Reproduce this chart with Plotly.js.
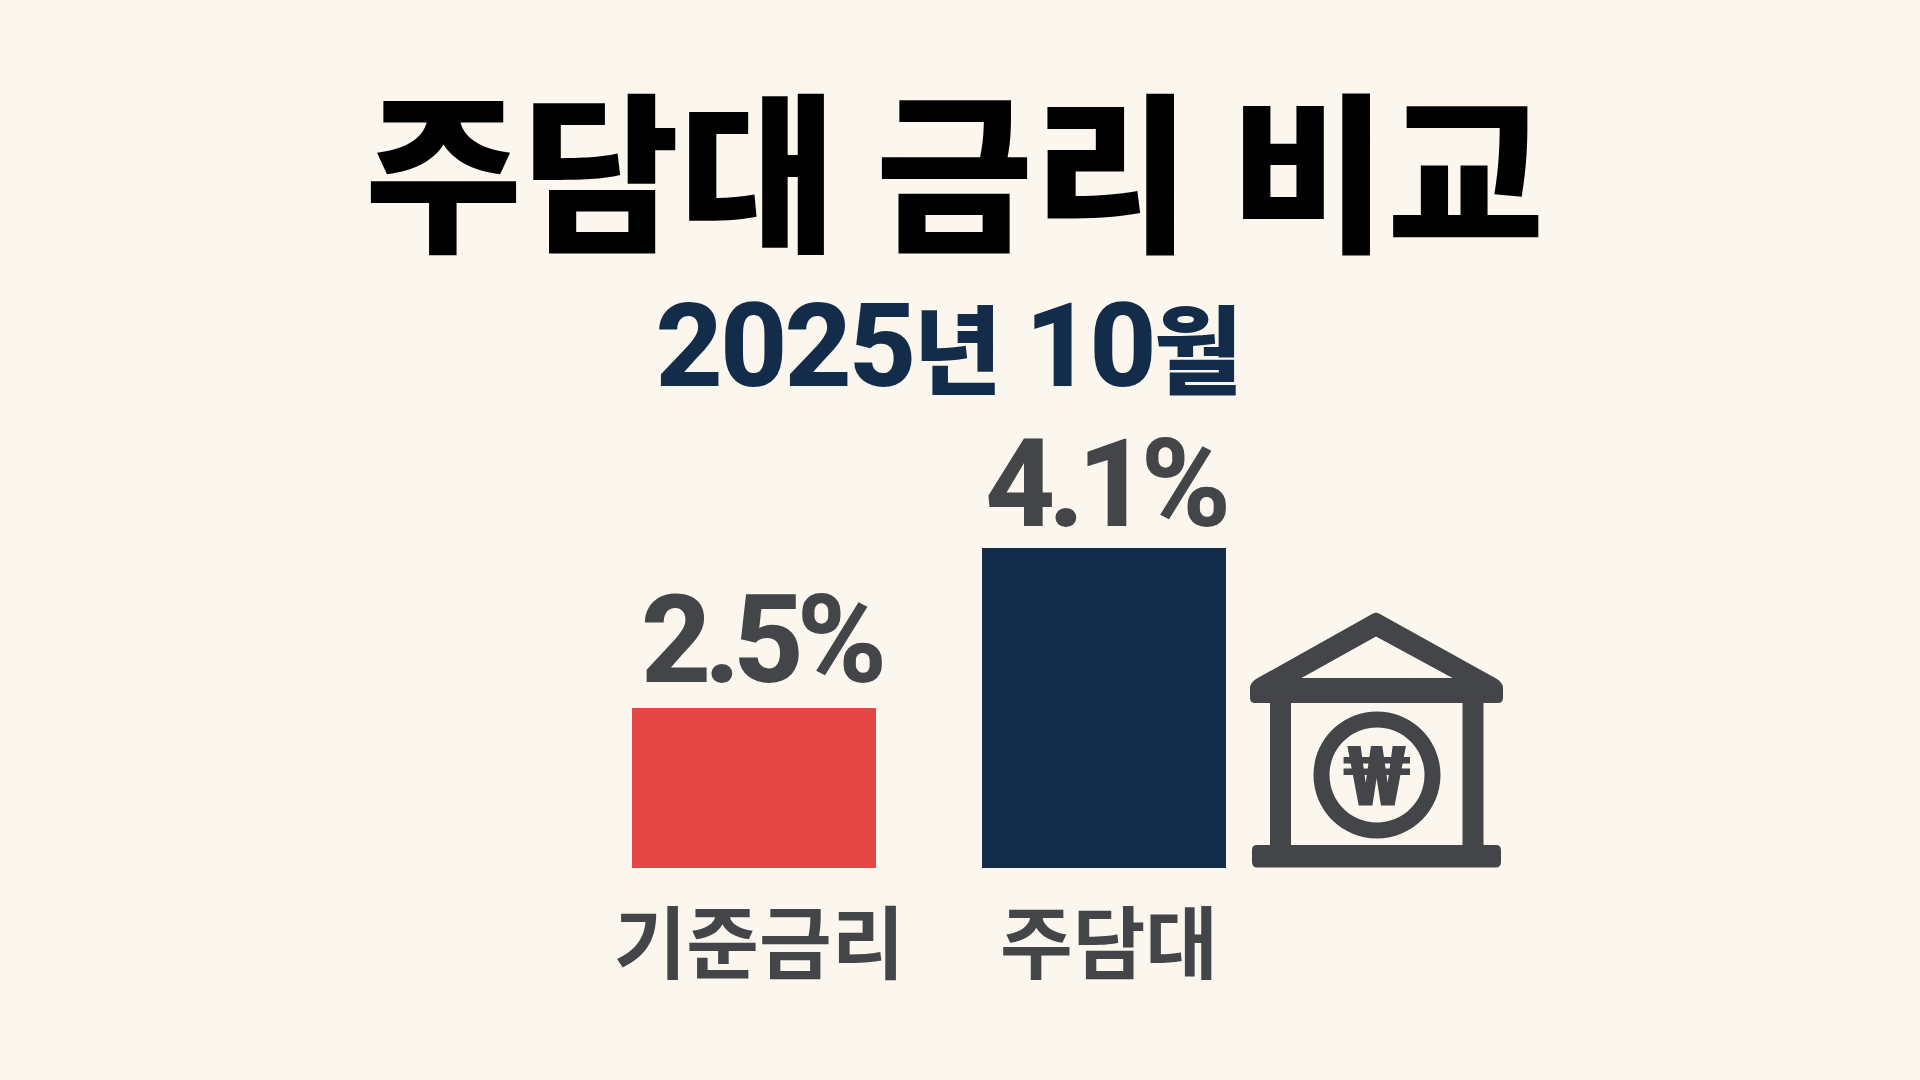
<!DOCTYPE html>
<html><head><meta charset="utf-8">
<script src="https://cdn.plot.ly/plotly-3.0.1.min.js"></script>
<style>html,body{margin:0;padding:0;background:#fbf7ee;overflow:hidden}#c{width:1920px;height:1080px}
.annotation[data-index="0"] .annotation-text{letter-spacing:-3px}
.annotation[data-index="2"] .annotation-text,.annotation[data-index="3"] .annotation-text{letter-spacing:-7px}
.xtick{transform:translateX(5px)}
</style>
</head><body><div id="c"></div>
<script>
const categories = ["기준금리", "주담대"];
const rates = [2.5, 4.1];
const valueLabels = ["2.5%", "4.1%"];
const barColors = ["#e54545", "#122b48"];
const titleText = "주담대 금리 비교";
const subtitleYear = "2025";
const subtitleYearUnit = "년";
const subtitleMonth = "10";
const subtitleMonthUnit = "월";
const axisBase = 0.9;

const W = 1920, H = 1080, plotH = 868, ink = "#434549";
const kr = '"Noto Sans CJK KR","Noto Sans",sans-serif';
const latinKr = 'Roboto,"Noto Sans CJK KR",sans-serif';
const unit = s => "<span style=\"font-size:96px\">" + s + "</span>";
const subtitleText = subtitleYear + unit(subtitleYearUnit) + " " + subtitleMonth + unit(subtitleMonthUnit);

// Icon outlines are written in page pixels, converted to paper fractions
const P = s => s.replace(/(-?[\d.]+) (-?[\d.]+)/g, (m, x, y) =>
  (x / W).toFixed(5) + " " + ((plotH - y) / plotH).toFixed(5));
const iconShape = path => ({type: "path", xref: "paper", yref: "paper", path: P(path), fillcolor: ink, line: {width: 0}, layer: "above"});
const disc = (cx, cy, r) => {
  const k = r * 0.5523;
  return `M ${cx + r} ${cy} C ${cx + r} ${cy + k} ${cx + k} ${cy + r} ${cx} ${cy + r} ` +
         `C ${cx - k} ${cy + r} ${cx - r} ${cy + k} ${cx - r} ${cy} ` +
         `C ${cx - r} ${cy - k} ${cx - k} ${cy - r} ${cx} ${cy - r} ` +
         `C ${cx + k} ${cy - r} ${cx + r} ${cy - k} ${cx + r} ${cy} Z `;
};

const shapes = [
  iconShape("M 1373 613.5 Q 1376 612 1379 613.5 L 1497 679 Q 1503 683 1503 688 L 1503 698 Q 1503 703 1498 703 L 1255 703 Q 1250 703 1250 698 L 1250 688 Q 1250 683 1256 679 Z M 1376 636.5 L 1301.5 678 L 1452.5 678 Z"),
  iconShape("M 1270 703 L 1291 703 L 1291 846 L 1270 846 Z"),
  iconShape("M 1462.5 703 L 1483.5 703 L 1483.5 846 L 1462.5 846 Z"),
  iconShape("M 1257 845 L 1496 845 Q 1501 845 1501 850 L 1501 862 Q 1501 867.5 1496 867.5 L 1257 867.5 Q 1252 867.5 1252 862 L 1252 850 Q 1252 845 1257 845 Z"),
  iconShape(disc(1377, 775, 63.5) + disc(1377, 775, 47.5))
];

const trace = {
  type: "bar", x: categories, y: rates, width: 0.697, base: 0,
  marker: {color: barColors, line: {width: 0}},
  hoverinfo: "skip"
};

const valueFont = {family: latinKr, size: 122, color: ink, weight: 800};
const valueXShift = [6, 0];
const valueYShift = [-6, -10];

const layout = {
  width: W, height: H, showlegend: false, bargap: 0.3,
  paper_bgcolor: "#fbf7ee", plot_bgcolor: "#fbf7ee",
  margin: {l: 0, r: 0, t: 0, b: H - plotH, pad: 0},
  title: {text: titleText, font: {family: kr, size: 171, color: "#000000", weight: 900},
          x: 954.5 / W, xref: "paper", xanchor: "center", y: 1 - 178 / H, yref: "container", yanchor: "middle"},
  xaxis: {type: "category", categoryorder: "array", categoryarray: categories, range: [-754 / 350, (W - 754) / 350],
          showgrid: false, showline: false, zeroline: false, ticks: "outside", ticklen: 9, tickcolor: "rgba(0,0,0,0)",
          tickfont: {family: kr, size: 79, color: ink, weight: 700}, fixedrange: true},
  yaxis: {range: [axisBase, axisBase + plotH / 100], visible: false, fixedrange: true},
  shapes: shapes,
  annotations: [
    {text: subtitleText, xref: "paper", yref: "paper", x: 947 / W, y: (plotH - 346) / plotH, xanchor: "center", yanchor: "middle", showarrow: false,
     font: {family: latinKr, size: 117, color: "#132c4a", weight: 800}},
    {text: "₩", xref: "paper", yref: "paper", x: 1376.5 / W, y: (plotH - 776) / plotH, xanchor: "center", yanchor: "middle", showarrow: false,
     font: {family: latinKr, size: 84, color: ink, weight: 800}}
  ].concat(categories.map((c, i) => ({
    text: valueLabels[i], xref: "x", yref: "y", x: c, y: rates[i], xanchor: "center", yanchor: "bottom", showarrow: false,
    xshift: valueXShift[i], yshift: valueYShift[i], font: valueFont
  })))
};
Plotly.newPlot("c", [trace], layout, {displayModeBar: false, staticPlot: true});
</script></body></html>
